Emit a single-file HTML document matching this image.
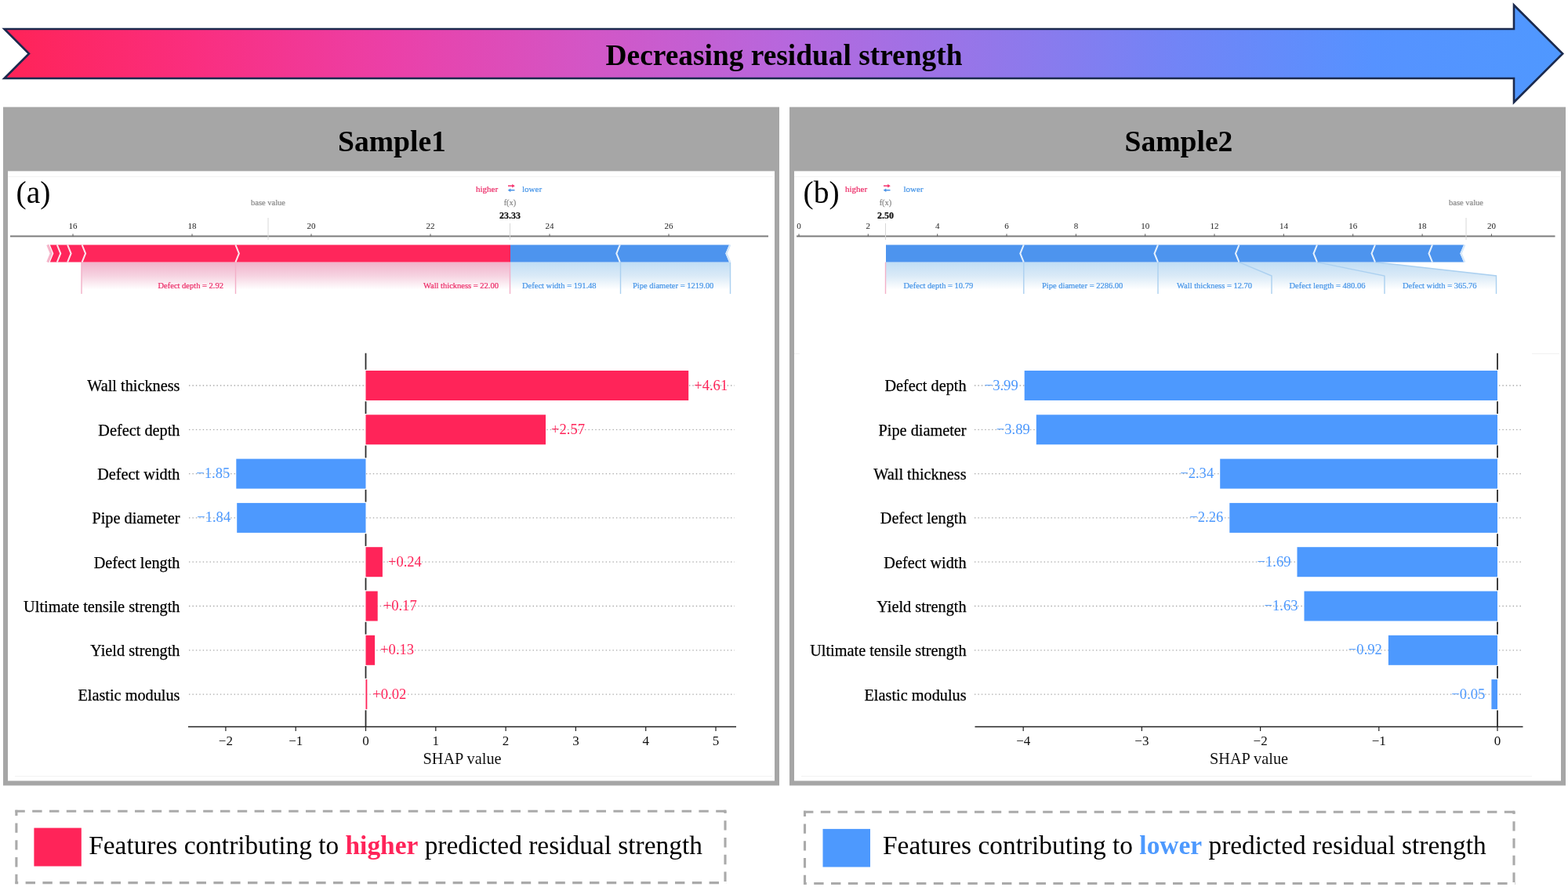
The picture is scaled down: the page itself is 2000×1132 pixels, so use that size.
<!DOCTYPE html><html><head><meta charset="utf-8"><title>SHAP</title><style>html,body{margin:0;padding:0;background:#fff;width:2000px;height:1132px;overflow:hidden}svg{display:block}</style></head><body><svg width="2000" height="1132" viewBox="0 0 2000 1132">
<rect width="2000" height="1132" fill="#FFFFFF"/>
<defs><linearGradient id="ag" x1="5" y1="0" x2="1995" y2="0" gradientUnits="userSpaceOnUse"><stop offset="0" stop-color="#FF2357"/><stop offset="0.123" stop-color="#FA2E7F"/><stop offset="0.249" stop-color="#EB40A8"/><stop offset="0.374" stop-color="#D356C6"/><stop offset="0.5" stop-color="#B767DD"/><stop offset="0.626" stop-color="#9576E9"/><stop offset="0.751" stop-color="#7284F6"/><stop offset="0.877" stop-color="#5692FF"/><stop offset="1" stop-color="#4F98FF"/></linearGradient><linearGradient id="gp" x1="0" y1="334.6" x2="0" y2="369.5" gradientUnits="userSpaceOnUse"><stop offset="0" stop-color="#F1B2CB"/><stop offset="0.5" stop-color="#F6D3E1"/><stop offset="1" stop-color="#FFFFFF"/></linearGradient><linearGradient id="gb" x1="0" y1="334.6" x2="0" y2="369.5" gradientUnits="userSpaceOnUse"><stop offset="0" stop-color="#C1DEF5"/><stop offset="0.5" stop-color="#DAEAF7"/><stop offset="1" stop-color="#FFFFFF"/></linearGradient></defs>
<polygon points="5.5,37 1931,37 1931,6.5 1993.2,68.5 1931,130.5 1931,100 5.5,100 37,68.5" fill="url(#ag)" stroke="#1B2A4E" stroke-width="2.6" stroke-linejoin="miter"/>
<text x="1000" y="82.5" text-anchor="middle" font-family="'Liberation Serif', 'DejaVu Serif', serif" font-weight="bold" font-size="37.4" fill="#000">Decreasing residual strength</text>
<rect x="4" y="136.6" width="990" height="865.9" fill="#A6A6A6"/>
<rect x="10" y="218.4" width="978" height="778.1" fill="#FFFFFF"/>
<text x="500" y="193" text-anchor="middle" font-family="'Liberation Serif', 'DejaVu Serif', serif" font-weight="bold" font-size="37.6" fill="#000">Sample1</text>
<rect x="1007" y="136.6" width="990" height="865.9" fill="#A6A6A6"/>
<rect x="1013" y="218.4" width="978" height="778.1" fill="#FFFFFF"/>
<text x="1503.5" y="193" text-anchor="middle" font-family="'Liberation Serif', 'DejaVu Serif', serif" font-weight="bold" font-size="37.6" fill="#000">Sample2</text>
<text x="20.5" y="258.5" font-family="'Liberation Serif', 'DejaVu Serif', serif" font-size="39.5" fill="#000">(a)</text>
<text x="1024.5" y="258.5" font-family="'Liberation Serif', 'DejaVu Serif', serif" font-size="39.5" fill="#000">(b)</text>
<line x1="13" y1="301.5" x2="980" y2="301.5" stroke="#7C7C7C" stroke-width="1.9"/>
<line x1="93.0" y1="298.5" x2="93.0" y2="301.5" stroke="#5A5A5A" stroke-width="1"/>
<text x="93.0" y="292.3" text-anchor="middle" font-family="'Liberation Serif', 'DejaVu Serif', serif" font-size="11" fill="#222">16</text>
<line x1="245.0" y1="298.5" x2="245.0" y2="301.5" stroke="#5A5A5A" stroke-width="1"/>
<text x="245.0" y="292.3" text-anchor="middle" font-family="'Liberation Serif', 'DejaVu Serif', serif" font-size="11" fill="#222">18</text>
<line x1="397.0" y1="298.5" x2="397.0" y2="301.5" stroke="#5A5A5A" stroke-width="1"/>
<text x="397.0" y="292.3" text-anchor="middle" font-family="'Liberation Serif', 'DejaVu Serif', serif" font-size="11" fill="#222">20</text>
<line x1="549.0" y1="298.5" x2="549.0" y2="301.5" stroke="#5A5A5A" stroke-width="1"/>
<text x="549.0" y="292.3" text-anchor="middle" font-family="'Liberation Serif', 'DejaVu Serif', serif" font-size="11" fill="#222">22</text>
<line x1="701.0" y1="298.5" x2="701.0" y2="301.5" stroke="#5A5A5A" stroke-width="1"/>
<text x="701.0" y="292.3" text-anchor="middle" font-family="'Liberation Serif', 'DejaVu Serif', serif" font-size="11" fill="#222">24</text>
<line x1="853.0" y1="298.5" x2="853.0" y2="301.5" stroke="#5A5A5A" stroke-width="1"/>
<text x="853.0" y="292.3" text-anchor="middle" font-family="'Liberation Serif', 'DejaVu Serif', serif" font-size="11" fill="#222">26</text>
<line x1="342" y1="278" x2="342" y2="306" stroke="#D8D8D8" stroke-width="1"/>
<text x="342" y="261.5" text-anchor="middle" font-family="'Liberation Serif', 'DejaVu Serif', serif" font-size="10.5" font-weight="normal" fill="#8A8A8A" stroke="#8A8A8A" stroke-width="0.22">base value</text>
<line x1="650.5" y1="285" x2="650.5" y2="306" stroke="#D8D8D8" stroke-width="1"/>
<text x="650.5" y="262" text-anchor="middle" font-family="'Liberation Serif', 'DejaVu Serif', serif" font-size="10.5" font-weight="normal" fill="#8A8A8A" stroke="#8A8A8A" stroke-width="0.22">f(x)</text>
<text x="650.5" y="279" text-anchor="middle" font-family="'Liberation Serif', 'DejaVu Serif', serif" font-size="12" font-weight="bold" fill="#111" stroke="#111" stroke-width="0.22">23.33</text>
<text x="607" y="244.5" text-anchor="start" font-family="'Liberation Serif', 'DejaVu Serif', serif" font-size="11" font-weight="normal" fill="#EC2C68" stroke="#EC2C68" stroke-width="0.22">higher</text>
<text x="666" y="244.5" text-anchor="start" font-family="'Liberation Serif', 'DejaVu Serif', serif" font-size="11" font-weight="normal" fill="#4896E8" stroke="#4896E8" stroke-width="0.22">lower</text>
<path d="M648,237.2 h6" stroke="#F5346E" stroke-width="1.5" fill="none"/>
<path d="M653.2,234.9 L656.8,237.2 L653.2,239.5 Z" fill="#F5346E"/>
<path d="M656.5,242.7 h-6" stroke="#4A92E6" stroke-width="1.5" fill="none"/>
<path d="M651.3,240.4 L647.7,242.7 L651.3,245 Z" fill="#4A92E6"/>
<polygon points="104,334.6 300.5,334.6 300.5,370 104,370" fill="url(#gp)"/>
<polygon points="300.5,334.6 650.5,334.6 650.5,370 300.5,370" fill="url(#gp)"/>
<polygon points="650.5,334.6 791.5,334.6 791.5,370 650.5,370" fill="url(#gb)"/>
<polygon points="791.5,334.6 931.5,334.6 931.5,370 791.5,370" fill="url(#gb)"/>
<polyline points="104,334.6 104,375" fill="none" stroke="#F3B0C8" stroke-width="1.4"/>
<polyline points="300.5,334.6 300.5,375" fill="none" stroke="#F3B0C8" stroke-width="1.4"/>
<polyline points="650.5,334.6 650.5,375" fill="none" stroke="#F3B0C8" stroke-width="1.4"/>
<polyline points="791.5,334.6 791.5,375" fill="none" stroke="#ABD0F0" stroke-width="1.4"/>
<polyline points="931.5,334.6 931.5,375" fill="none" stroke="#ABD0F0" stroke-width="1.4"/>
<text x="285" y="368" text-anchor="end" font-family="'Liberation Serif', 'DejaVu Serif', serif" font-size="10.5" font-weight="normal" fill="#EC2C68" stroke="#EC2C68" stroke-width="0.22">Defect depth = 2.92</text>
<text x="636" y="368" text-anchor="end" font-family="'Liberation Serif', 'DejaVu Serif', serif" font-size="10.5" font-weight="normal" fill="#EC2C68" stroke="#EC2C68" stroke-width="0.22">Wall thickness = 22.00</text>
<text x="666" y="368" text-anchor="start" font-family="'Liberation Serif', 'DejaVu Serif', serif" font-size="10.5" font-weight="normal" fill="#4896E8" stroke="#4896E8" stroke-width="0.22">Defect width = 191.48</text>
<text x="807" y="368" text-anchor="start" font-family="'Liberation Serif', 'DejaVu Serif', serif" font-size="10.5" font-weight="normal" fill="#4896E8" stroke="#4896E8" stroke-width="0.22">Pipe diameter = 1219.00</text>
<polygon points="63.8,312.4 651,312.4 651,334.6 63.8,334.6 68.3,323.5" fill="#FF265B"/>
<polyline points="60.8,312.4 65.3,323.5 60.8,334.6" fill="none" stroke="#F5B5CA" stroke-width="3.2"/>
<polygon points="651,312.4 930,312.4 925.3,323.5 930,334.6 651,334.6" fill="#4D94EE"/>
<polyline points="931.3,312.4 926.6,323.5 931.3,334.6" fill="none" stroke="#D6E8F9" stroke-width="2.2"/>
<polyline points="72.8,312.4 77.3,323.5 72.8,334.6" fill="none" stroke="#FCE6EE" stroke-width="2.0"/>
<polyline points="86.1,312.4 90.6,323.5 86.1,334.6" fill="none" stroke="#FCE6EE" stroke-width="2.0"/>
<polyline points="104.6,312.4 109.1,323.5 104.6,334.6" fill="none" stroke="#FCE6EE" stroke-width="2.0"/>
<polyline points="300.4,312.4 304.9,323.5 300.4,334.6" fill="none" stroke="#FCE6EE" stroke-width="2.0"/>
<polyline points="790.8,312.4 786.3,323.5 790.8,334.6" fill="none" stroke="#E6F1FC" stroke-width="2.0"/>
<line x1="1016" y1="301.5" x2="1983.5" y2="301.5" stroke="#7C7C7C" stroke-width="1.9"/>
<line x1="1019.0" y1="298.5" x2="1019.0" y2="301.5" stroke="#5A5A5A" stroke-width="1"/>
<text x="1019.0" y="292.3" text-anchor="middle" font-family="'Liberation Serif', 'DejaVu Serif', serif" font-size="11" fill="#222">0</text>
<line x1="1107.3" y1="298.5" x2="1107.3" y2="301.5" stroke="#5A5A5A" stroke-width="1"/>
<text x="1107.3" y="292.3" text-anchor="middle" font-family="'Liberation Serif', 'DejaVu Serif', serif" font-size="11" fill="#222">2</text>
<line x1="1195.7" y1="298.5" x2="1195.7" y2="301.5" stroke="#5A5A5A" stroke-width="1"/>
<text x="1195.7" y="292.3" text-anchor="middle" font-family="'Liberation Serif', 'DejaVu Serif', serif" font-size="11" fill="#222">4</text>
<line x1="1284.0" y1="298.5" x2="1284.0" y2="301.5" stroke="#5A5A5A" stroke-width="1"/>
<text x="1284.0" y="292.3" text-anchor="middle" font-family="'Liberation Serif', 'DejaVu Serif', serif" font-size="11" fill="#222">6</text>
<line x1="1372.4" y1="298.5" x2="1372.4" y2="301.5" stroke="#5A5A5A" stroke-width="1"/>
<text x="1372.4" y="292.3" text-anchor="middle" font-family="'Liberation Serif', 'DejaVu Serif', serif" font-size="11" fill="#222">8</text>
<line x1="1460.7" y1="298.5" x2="1460.7" y2="301.5" stroke="#5A5A5A" stroke-width="1"/>
<text x="1460.7" y="292.3" text-anchor="middle" font-family="'Liberation Serif', 'DejaVu Serif', serif" font-size="11" fill="#222">10</text>
<line x1="1549.0" y1="298.5" x2="1549.0" y2="301.5" stroke="#5A5A5A" stroke-width="1"/>
<text x="1549.0" y="292.3" text-anchor="middle" font-family="'Liberation Serif', 'DejaVu Serif', serif" font-size="11" fill="#222">12</text>
<line x1="1637.4" y1="298.5" x2="1637.4" y2="301.5" stroke="#5A5A5A" stroke-width="1"/>
<text x="1637.4" y="292.3" text-anchor="middle" font-family="'Liberation Serif', 'DejaVu Serif', serif" font-size="11" fill="#222">14</text>
<line x1="1725.7" y1="298.5" x2="1725.7" y2="301.5" stroke="#5A5A5A" stroke-width="1"/>
<text x="1725.7" y="292.3" text-anchor="middle" font-family="'Liberation Serif', 'DejaVu Serif', serif" font-size="11" fill="#222">16</text>
<line x1="1814.1" y1="298.5" x2="1814.1" y2="301.5" stroke="#5A5A5A" stroke-width="1"/>
<text x="1814.1" y="292.3" text-anchor="middle" font-family="'Liberation Serif', 'DejaVu Serif', serif" font-size="11" fill="#222">18</text>
<line x1="1902.4" y1="298.5" x2="1902.4" y2="301.5" stroke="#5A5A5A" stroke-width="1"/>
<text x="1902.4" y="292.3" text-anchor="middle" font-family="'Liberation Serif', 'DejaVu Serif', serif" font-size="11" fill="#222">20</text>
<line x1="1870" y1="278" x2="1870" y2="306" stroke="#D8D8D8" stroke-width="1"/>
<text x="1870" y="261.5" text-anchor="middle" font-family="'Liberation Serif', 'DejaVu Serif', serif" font-size="10.5" font-weight="normal" fill="#8A8A8A" stroke="#8A8A8A" stroke-width="0.22">base value</text>
<line x1="1129.5" y1="285" x2="1129.5" y2="306" stroke="#D8D8D8" stroke-width="1"/>
<text x="1129.5" y="262" text-anchor="middle" font-family="'Liberation Serif', 'DejaVu Serif', serif" font-size="10.5" font-weight="normal" fill="#8A8A8A" stroke="#8A8A8A" stroke-width="0.22">f(x)</text>
<text x="1129.5" y="279" text-anchor="middle" font-family="'Liberation Serif', 'DejaVu Serif', serif" font-size="12" font-weight="bold" fill="#111" stroke="#111" stroke-width="0.22">2.50</text>
<text x="1078" y="244.5" text-anchor="start" font-family="'Liberation Serif', 'DejaVu Serif', serif" font-size="11" font-weight="normal" fill="#EC2C68" stroke="#EC2C68" stroke-width="0.22">higher</text>
<text x="1152.5" y="244.5" text-anchor="start" font-family="'Liberation Serif', 'DejaVu Serif', serif" font-size="11" font-weight="normal" fill="#4896E8" stroke="#4896E8" stroke-width="0.22">lower</text>
<path d="M1127,237.2 h6" stroke="#F5346E" stroke-width="1.5" fill="none"/>
<path d="M1132.2,234.9 L1135.8,237.2 L1132.2,239.5 Z" fill="#F5346E"/>
<path d="M1135.5,242.7 h-6" stroke="#4A92E6" stroke-width="1.5" fill="none"/>
<path d="M1130.3,240.4 L1126.7,242.7 L1130.3,245 Z" fill="#4A92E6"/>
<polygon points="1129.5,334.6 1305.8,334.6 1305.8,370 1129.5,370" fill="url(#gb)"/>
<polygon points="1305.8,334.6 1477,334.6 1477,370 1305.8,370" fill="url(#gb)"/>
<polygon points="1477,334.6 1580.5,334.6 1622,352 1622,370 1477,370" fill="url(#gb)"/>
<polygon points="1580.5,334.6 1680,334.6 1766,352 1766,370 1622,370 1622,352" fill="url(#gb)"/>
<polygon points="1680,334.6 1754,334.6 1908.5,352 1908.5,370 1766,370 1766,352" fill="url(#gb)"/>
<polyline points="1305.8,334.6 1305.8,375" fill="none" stroke="#ABD0F0" stroke-width="1.4"/>
<polyline points="1477,334.6 1477,375" fill="none" stroke="#ABD0F0" stroke-width="1.4"/>
<polyline points="1580.5,334.6 1622,352 1622,375" fill="none" stroke="#ABD0F0" stroke-width="1.4"/>
<polyline points="1680,334.6 1766,352 1766,375" fill="none" stroke="#ABD0F0" stroke-width="1.4"/>
<polyline points="1754,334.6 1908.5,352 1908.5,375" fill="none" stroke="#ABD0F0" stroke-width="1.4"/>
<line x1="1129.5" y1="334.6" x2="1129.5" y2="375" stroke="#F3B0C8" stroke-width="1.4"/>
<text x="1152.5" y="368" text-anchor="start" font-family="'Liberation Serif', 'DejaVu Serif', serif" font-size="10.5" font-weight="normal" fill="#4896E8" stroke="#4896E8" stroke-width="0.22">Defect depth = 10.79</text>
<text x="1329" y="368" text-anchor="start" font-family="'Liberation Serif', 'DejaVu Serif', serif" font-size="10.5" font-weight="normal" fill="#4896E8" stroke="#4896E8" stroke-width="0.22">Pipe diameter = 2286.00</text>
<text x="1501" y="368" text-anchor="start" font-family="'Liberation Serif', 'DejaVu Serif', serif" font-size="10.5" font-weight="normal" fill="#4896E8" stroke="#4896E8" stroke-width="0.22">Wall thickness = 12.70</text>
<text x="1644.5" y="368" text-anchor="start" font-family="'Liberation Serif', 'DejaVu Serif', serif" font-size="10.5" font-weight="normal" fill="#4896E8" stroke="#4896E8" stroke-width="0.22">Defect length = 480.06</text>
<text x="1789" y="368" text-anchor="start" font-family="'Liberation Serif', 'DejaVu Serif', serif" font-size="10.5" font-weight="normal" fill="#4896E8" stroke="#4896E8" stroke-width="0.22">Defect width = 365.76</text>
<polygon points="1130,312.4 1867,312.4 1862.3,323.5 1867,334.6 1130,334.6" fill="#4D94EE"/>
<polyline points="1868.3,312.4 1863.6,323.5 1868.3,334.6" fill="none" stroke="#D6E8F9" stroke-width="2.2"/>
<polyline points="1305.8,312.4 1301.3,323.5 1305.8,334.6" fill="none" stroke="#E6F1FC" stroke-width="2.0"/>
<polyline points="1477,312.4 1472.5,323.5 1477,334.6" fill="none" stroke="#E6F1FC" stroke-width="2.0"/>
<polyline points="1580.5,312.4 1576.0,323.5 1580.5,334.6" fill="none" stroke="#E6F1FC" stroke-width="2.0"/>
<polyline points="1680,312.4 1675.5,323.5 1680,334.6" fill="none" stroke="#E6F1FC" stroke-width="2.0"/>
<polyline points="1754,312.4 1749.5,323.5 1754,334.6" fill="none" stroke="#E6F1FC" stroke-width="2.0"/>
<polyline points="1827,312.4 1822.5,323.5 1827,334.6" fill="none" stroke="#E6F1FC" stroke-width="2.0"/>
<line x1="10" y1="225.5" x2="985.5" y2="225.5" stroke="#F3F3F3" stroke-width="1"/>
<line x1="1013" y1="225.5" x2="1990" y2="225.5" stroke="#F3F3F3" stroke-width="1"/>
<line x1="1954" y1="451.3" x2="1989" y2="451.3" stroke="#F0F0F0" stroke-width="1"/>
<line x1="1013" y1="451.3" x2="1020" y2="451.3" stroke="#F0F0F0" stroke-width="1"/>
<line x1="19" y1="990.8" x2="985" y2="990.8" stroke="#F0F0F0" stroke-width="1"/>
<line x1="1022" y1="990.8" x2="1954" y2="990.8" stroke="#F0F0F0" stroke-width="1"/>
<line x1="241" y1="492.0" x2="937" y2="492.0" stroke="#A9A9A9" stroke-width="1.3" stroke-dasharray="1.4 3.03"/>
<line x1="241" y1="548.3" x2="937" y2="548.3" stroke="#A9A9A9" stroke-width="1.3" stroke-dasharray="1.4 3.03"/>
<line x1="241" y1="604.6" x2="937" y2="604.6" stroke="#A9A9A9" stroke-width="1.3" stroke-dasharray="1.4 3.03"/>
<line x1="241" y1="660.9" x2="937" y2="660.9" stroke="#A9A9A9" stroke-width="1.3" stroke-dasharray="1.4 3.03"/>
<line x1="241" y1="717.2" x2="937" y2="717.2" stroke="#A9A9A9" stroke-width="1.3" stroke-dasharray="1.4 3.03"/>
<line x1="241" y1="773.5" x2="937" y2="773.5" stroke="#A9A9A9" stroke-width="1.3" stroke-dasharray="1.4 3.03"/>
<line x1="241" y1="829.8" x2="937" y2="829.8" stroke="#A9A9A9" stroke-width="1.3" stroke-dasharray="1.4 3.03"/>
<line x1="241" y1="886.1" x2="937" y2="886.1" stroke="#A9A9A9" stroke-width="1.3" stroke-dasharray="1.4 3.03"/>
<line x1="466.5" y1="450.7" x2="466.5" y2="471.7" stroke="#2B2B2B" stroke-width="1.8"/>
<line x1="466.5" y1="512.3" x2="466.5" y2="528.0" stroke="#2B2B2B" stroke-width="1.8"/>
<line x1="466.5" y1="568.6" x2="466.5" y2="584.3" stroke="#2B2B2B" stroke-width="1.8"/>
<line x1="466.5" y1="624.9" x2="466.5" y2="640.6" stroke="#2B2B2B" stroke-width="1.8"/>
<line x1="466.5" y1="681.2" x2="466.5" y2="696.9" stroke="#2B2B2B" stroke-width="1.8"/>
<line x1="466.5" y1="737.5" x2="466.5" y2="753.2" stroke="#2B2B2B" stroke-width="1.8"/>
<line x1="466.5" y1="793.8" x2="466.5" y2="809.5" stroke="#2B2B2B" stroke-width="1.8"/>
<line x1="466.5" y1="850.1" x2="466.5" y2="865.8" stroke="#2B2B2B" stroke-width="1.8"/>
<line x1="466.5" y1="906.4" x2="466.5" y2="927.5" stroke="#2B2B2B" stroke-width="1.8"/>
<rect x="466.5" y="473.0" width="411.7" height="38" fill="#FF2459"/>
<text x="229.5" y="499.4" text-anchor="end" font-family="'Liberation Serif', 'DejaVu Serif', serif" font-size="20.3" fill="#000" stroke="#000" stroke-width="0.25">Wall thickness</text>
<text x="885.2" y="497.5" text-anchor="start" font-family="'Liberation Serif', 'DejaVu Serif', serif" font-size="18.6" fill="#FF2459">+4.61</text>
<rect x="466.5" y="529.3" width="229.5" height="38" fill="#FF2459"/>
<text x="229.5" y="555.7" text-anchor="end" font-family="'Liberation Serif', 'DejaVu Serif', serif" font-size="20.3" fill="#000" stroke="#000" stroke-width="0.25">Defect depth</text>
<text x="703.0" y="553.8" text-anchor="start" font-family="'Liberation Serif', 'DejaVu Serif', serif" font-size="18.6" fill="#FF2459">+2.57</text>
<rect x="301.3" y="585.6" width="165.2" height="38" fill="#4D99FE"/>
<text x="229.5" y="612.0" text-anchor="end" font-family="'Liberation Serif', 'DejaVu Serif', serif" font-size="20.3" fill="#000" stroke="#000" stroke-width="0.25">Defect width</text>
<text x="293.3" y="610.1" text-anchor="end" font-family="'Liberation Serif', 'DejaVu Serif', serif" font-size="18.6" fill="#4D99FE">−1.85</text>
<rect x="302.2" y="641.9" width="164.3" height="38" fill="#4D99FE"/>
<text x="229.5" y="668.3" text-anchor="end" font-family="'Liberation Serif', 'DejaVu Serif', serif" font-size="20.3" fill="#000" stroke="#000" stroke-width="0.25">Pipe diameter</text>
<text x="294.2" y="666.4" text-anchor="end" font-family="'Liberation Serif', 'DejaVu Serif', serif" font-size="18.6" fill="#4D99FE">−1.84</text>
<rect x="466.5" y="698.2" width="21.4" height="38" fill="#FF2459"/>
<text x="229.5" y="724.6" text-anchor="end" font-family="'Liberation Serif', 'DejaVu Serif', serif" font-size="20.3" fill="#000" stroke="#000" stroke-width="0.25">Defect length</text>
<text x="494.9" y="722.7" text-anchor="start" font-family="'Liberation Serif', 'DejaVu Serif', serif" font-size="18.6" fill="#FF2459">+0.24</text>
<rect x="466.5" y="754.5" width="15.2" height="38" fill="#FF2459"/>
<text x="229.5" y="780.9" text-anchor="end" font-family="'Liberation Serif', 'DejaVu Serif', serif" font-size="20.3" fill="#000" stroke="#000" stroke-width="0.25">Ultimate tensile strength</text>
<text x="488.7" y="779.0" text-anchor="start" font-family="'Liberation Serif', 'DejaVu Serif', serif" font-size="18.6" fill="#FF2459">+0.17</text>
<rect x="466.5" y="810.8" width="11.6" height="38" fill="#FF2459"/>
<text x="229.5" y="837.2" text-anchor="end" font-family="'Liberation Serif', 'DejaVu Serif', serif" font-size="20.3" fill="#000" stroke="#000" stroke-width="0.25">Yield strength</text>
<text x="485.1" y="835.3" text-anchor="start" font-family="'Liberation Serif', 'DejaVu Serif', serif" font-size="18.6" fill="#FF2459">+0.13</text>
<rect x="466.5" y="867.1" width="1.8" height="38" fill="#FF2459"/>
<text x="229.5" y="893.5" text-anchor="end" font-family="'Liberation Serif', 'DejaVu Serif', serif" font-size="20.3" fill="#000" stroke="#000" stroke-width="0.25">Elastic modulus</text>
<text x="475.3" y="891.6" text-anchor="start" font-family="'Liberation Serif', 'DejaVu Serif', serif" font-size="18.6" fill="#FF2459">+0.02</text>
<line x1="240" y1="927.5" x2="939" y2="927.5" stroke="#222" stroke-width="1.6"/>
<line x1="287.9" y1="927.5" x2="287.9" y2="933" stroke="#222" stroke-width="1.2"/>
<text x="287.9" y="951" text-anchor="middle" font-family="'Liberation Serif', 'DejaVu Serif', serif" font-size="17" fill="#111">−2</text>
<line x1="377.2" y1="927.5" x2="377.2" y2="933" stroke="#222" stroke-width="1.2"/>
<text x="377.2" y="951" text-anchor="middle" font-family="'Liberation Serif', 'DejaVu Serif', serif" font-size="17" fill="#111">−1</text>
<line x1="466.5" y1="927.5" x2="466.5" y2="933" stroke="#222" stroke-width="1.2"/>
<text x="466.5" y="951" text-anchor="middle" font-family="'Liberation Serif', 'DejaVu Serif', serif" font-size="17" fill="#111">0</text>
<line x1="555.8" y1="927.5" x2="555.8" y2="933" stroke="#222" stroke-width="1.2"/>
<text x="555.8" y="951" text-anchor="middle" font-family="'Liberation Serif', 'DejaVu Serif', serif" font-size="17" fill="#111">1</text>
<line x1="645.1" y1="927.5" x2="645.1" y2="933" stroke="#222" stroke-width="1.2"/>
<text x="645.1" y="951" text-anchor="middle" font-family="'Liberation Serif', 'DejaVu Serif', serif" font-size="17" fill="#111">2</text>
<line x1="734.4" y1="927.5" x2="734.4" y2="933" stroke="#222" stroke-width="1.2"/>
<text x="734.4" y="951" text-anchor="middle" font-family="'Liberation Serif', 'DejaVu Serif', serif" font-size="17" fill="#111">3</text>
<line x1="823.7" y1="927.5" x2="823.7" y2="933" stroke="#222" stroke-width="1.2"/>
<text x="823.7" y="951" text-anchor="middle" font-family="'Liberation Serif', 'DejaVu Serif', serif" font-size="17" fill="#111">4</text>
<line x1="913.0" y1="927.5" x2="913.0" y2="933" stroke="#222" stroke-width="1.2"/>
<text x="913.0" y="951" text-anchor="middle" font-family="'Liberation Serif', 'DejaVu Serif', serif" font-size="17" fill="#111">5</text>
<text x="589.5" y="975" text-anchor="middle" font-family="'Liberation Serif', 'DejaVu Serif', serif" font-size="20.3" fill="#111">SHAP value</text>
<line x1="1243" y1="492.0" x2="1940" y2="492.0" stroke="#A9A9A9" stroke-width="1.3" stroke-dasharray="1.4 3.03"/>
<line x1="1243" y1="548.3" x2="1940" y2="548.3" stroke="#A9A9A9" stroke-width="1.3" stroke-dasharray="1.4 3.03"/>
<line x1="1243" y1="604.6" x2="1940" y2="604.6" stroke="#A9A9A9" stroke-width="1.3" stroke-dasharray="1.4 3.03"/>
<line x1="1243" y1="660.9" x2="1940" y2="660.9" stroke="#A9A9A9" stroke-width="1.3" stroke-dasharray="1.4 3.03"/>
<line x1="1243" y1="717.2" x2="1940" y2="717.2" stroke="#A9A9A9" stroke-width="1.3" stroke-dasharray="1.4 3.03"/>
<line x1="1243" y1="773.5" x2="1940" y2="773.5" stroke="#A9A9A9" stroke-width="1.3" stroke-dasharray="1.4 3.03"/>
<line x1="1243" y1="829.8" x2="1940" y2="829.8" stroke="#A9A9A9" stroke-width="1.3" stroke-dasharray="1.4 3.03"/>
<line x1="1243" y1="886.1" x2="1940" y2="886.1" stroke="#A9A9A9" stroke-width="1.3" stroke-dasharray="1.4 3.03"/>
<line x1="1910" y1="450.7" x2="1910" y2="471.7" stroke="#2B2B2B" stroke-width="1.8"/>
<line x1="1910" y1="512.3" x2="1910" y2="528.0" stroke="#2B2B2B" stroke-width="1.8"/>
<line x1="1910" y1="568.6" x2="1910" y2="584.3" stroke="#2B2B2B" stroke-width="1.8"/>
<line x1="1910" y1="624.9" x2="1910" y2="640.6" stroke="#2B2B2B" stroke-width="1.8"/>
<line x1="1910" y1="681.2" x2="1910" y2="696.9" stroke="#2B2B2B" stroke-width="1.8"/>
<line x1="1910" y1="737.5" x2="1910" y2="753.2" stroke="#2B2B2B" stroke-width="1.8"/>
<line x1="1910" y1="793.8" x2="1910" y2="809.5" stroke="#2B2B2B" stroke-width="1.8"/>
<line x1="1910" y1="850.1" x2="1910" y2="865.8" stroke="#2B2B2B" stroke-width="1.8"/>
<line x1="1910" y1="906.4" x2="1910" y2="927.5" stroke="#2B2B2B" stroke-width="1.8"/>
<rect x="1306.7" y="473.0" width="603.3" height="38" fill="#4D99FE"/>
<text x="1232.6" y="499.4" text-anchor="end" font-family="'Liberation Serif', 'DejaVu Serif', serif" font-size="20.3" fill="#000" stroke="#000" stroke-width="0.25">Defect depth</text>
<text x="1298.7" y="497.5" text-anchor="end" font-family="'Liberation Serif', 'DejaVu Serif', serif" font-size="18.6" fill="#4D99FE">−3.99</text>
<rect x="1321.8" y="529.3" width="588.2" height="38" fill="#4D99FE"/>
<text x="1232.6" y="555.7" text-anchor="end" font-family="'Liberation Serif', 'DejaVu Serif', serif" font-size="20.3" fill="#000" stroke="#000" stroke-width="0.25">Pipe diameter</text>
<text x="1313.8" y="553.8" text-anchor="end" font-family="'Liberation Serif', 'DejaVu Serif', serif" font-size="18.6" fill="#4D99FE">−3.89</text>
<rect x="1556.2" y="585.6" width="353.8" height="38" fill="#4D99FE"/>
<text x="1232.6" y="612.0" text-anchor="end" font-family="'Liberation Serif', 'DejaVu Serif', serif" font-size="20.3" fill="#000" stroke="#000" stroke-width="0.25">Wall thickness</text>
<text x="1548.2" y="610.1" text-anchor="end" font-family="'Liberation Serif', 'DejaVu Serif', serif" font-size="18.6" fill="#4D99FE">−2.34</text>
<rect x="1568.3" y="641.9" width="341.7" height="38" fill="#4D99FE"/>
<text x="1232.6" y="668.3" text-anchor="end" font-family="'Liberation Serif', 'DejaVu Serif', serif" font-size="20.3" fill="#000" stroke="#000" stroke-width="0.25">Defect length</text>
<text x="1560.3" y="666.4" text-anchor="end" font-family="'Liberation Serif', 'DejaVu Serif', serif" font-size="18.6" fill="#4D99FE">−2.26</text>
<rect x="1654.5" y="698.2" width="255.5" height="38" fill="#4D99FE"/>
<text x="1232.6" y="724.6" text-anchor="end" font-family="'Liberation Serif', 'DejaVu Serif', serif" font-size="20.3" fill="#000" stroke="#000" stroke-width="0.25">Defect width</text>
<text x="1646.5" y="722.7" text-anchor="end" font-family="'Liberation Serif', 'DejaVu Serif', serif" font-size="18.6" fill="#4D99FE">−1.69</text>
<rect x="1663.5" y="754.5" width="246.5" height="38" fill="#4D99FE"/>
<text x="1232.6" y="780.9" text-anchor="end" font-family="'Liberation Serif', 'DejaVu Serif', serif" font-size="20.3" fill="#000" stroke="#000" stroke-width="0.25">Yield strength</text>
<text x="1655.5" y="779.0" text-anchor="end" font-family="'Liberation Serif', 'DejaVu Serif', serif" font-size="18.6" fill="#4D99FE">−1.63</text>
<rect x="1770.9" y="810.8" width="139.1" height="38" fill="#4D99FE"/>
<text x="1232.6" y="837.2" text-anchor="end" font-family="'Liberation Serif', 'DejaVu Serif', serif" font-size="20.3" fill="#000" stroke="#000" stroke-width="0.25">Ultimate tensile strength</text>
<text x="1762.9" y="835.3" text-anchor="end" font-family="'Liberation Serif', 'DejaVu Serif', serif" font-size="18.6" fill="#4D99FE">−0.92</text>
<rect x="1902.4" y="867.1" width="7.6" height="38" fill="#4D99FE"/>
<text x="1232.6" y="893.5" text-anchor="end" font-family="'Liberation Serif', 'DejaVu Serif', serif" font-size="20.3" fill="#000" stroke="#000" stroke-width="0.25">Elastic modulus</text>
<text x="1894.4" y="891.6" text-anchor="end" font-family="'Liberation Serif', 'DejaVu Serif', serif" font-size="18.6" fill="#4D99FE">−0.05</text>
<line x1="1243.5" y1="927.5" x2="1942.5" y2="927.5" stroke="#222" stroke-width="1.6"/>
<line x1="1305.2" y1="927.5" x2="1305.2" y2="933" stroke="#222" stroke-width="1.2"/>
<text x="1305.2" y="951" text-anchor="middle" font-family="'Liberation Serif', 'DejaVu Serif', serif" font-size="17" fill="#111">−4</text>
<line x1="1456.4" y1="927.5" x2="1456.4" y2="933" stroke="#222" stroke-width="1.2"/>
<text x="1456.4" y="951" text-anchor="middle" font-family="'Liberation Serif', 'DejaVu Serif', serif" font-size="17" fill="#111">−3</text>
<line x1="1607.6" y1="927.5" x2="1607.6" y2="933" stroke="#222" stroke-width="1.2"/>
<text x="1607.6" y="951" text-anchor="middle" font-family="'Liberation Serif', 'DejaVu Serif', serif" font-size="17" fill="#111">−2</text>
<line x1="1758.8" y1="927.5" x2="1758.8" y2="933" stroke="#222" stroke-width="1.2"/>
<text x="1758.8" y="951" text-anchor="middle" font-family="'Liberation Serif', 'DejaVu Serif', serif" font-size="17" fill="#111">−1</text>
<line x1="1910.0" y1="927.5" x2="1910.0" y2="933" stroke="#222" stroke-width="1.2"/>
<text x="1910.0" y="951" text-anchor="middle" font-family="'Liberation Serif', 'DejaVu Serif', serif" font-size="17" fill="#111">0</text>
<text x="1593.0" y="975" text-anchor="middle" font-family="'Liberation Serif', 'DejaVu Serif', serif" font-size="20.3" fill="#111">SHAP value</text>
<line x1="19.4" y1="1035.2" x2="926.5" y2="1035.2" stroke="#AAAAAA" stroke-width="3.1" stroke-dasharray="12.4 9.4" stroke-dashoffset="0"/>
<line x1="925" y1="1035.2" x2="925" y2="1128.1" stroke="#AAAAAA" stroke-width="3.1" stroke-dasharray="12.4 9.4" stroke-dashoffset="9.8"/>
<line x1="925" y1="1033.7" x2="925" y2="1037.4" stroke="#AAAAAA" stroke-width="3.1"/>
<line x1="19.4" y1="1126.6" x2="926.5" y2="1126.6" stroke="#AAAAAA" stroke-width="3.1" stroke-dasharray="12.4 9.4" stroke-dashoffset="8.6"/>
<line x1="20.9" y1="1033.7" x2="20.9" y2="1128.1" stroke="#AAAAAA" stroke-width="3.1" stroke-dasharray="12.4 9.4" stroke-dashoffset="5.1"/>
<rect x="43.4" y="1056.6" width="60.4" height="48.9" fill="#FF2459"/>
<text x="113.2" y="1090.4" font-family="'Liberation Serif', 'DejaVu Serif', serif" font-size="33.4" fill="#000">Features contributing to <tspan font-weight="bold" fill="#FF2459">higher</tspan> predicted residual strength</text>
<line x1="1025.0" y1="1036.2" x2="1932.5" y2="1036.2" stroke="#AAAAAA" stroke-width="3.1" stroke-dasharray="12.4 9.4" stroke-dashoffset="0"/>
<line x1="1931" y1="1036.2" x2="1931" y2="1129.0" stroke="#AAAAAA" stroke-width="3.1" stroke-dasharray="12.4 9.4" stroke-dashoffset="9.8"/>
<line x1="1931" y1="1034.7" x2="1931" y2="1038.4" stroke="#AAAAAA" stroke-width="3.1"/>
<line x1="1025.0" y1="1127.5" x2="1932.5" y2="1127.5" stroke="#AAAAAA" stroke-width="3.1" stroke-dasharray="12.4 9.4" stroke-dashoffset="8.6"/>
<line x1="1026.5" y1="1034.7" x2="1026.5" y2="1129.0" stroke="#AAAAAA" stroke-width="3.1" stroke-dasharray="12.4 9.4" stroke-dashoffset="5.1"/>
<rect x="1049.5" y="1057.9" width="60.5" height="48.6" fill="#4D99FE"/>
<text x="1126" y="1090.4" font-family="'Liberation Serif', 'DejaVu Serif', serif" font-size="33.4" fill="#000">Features contributing to <tspan font-weight="bold" fill="#4D99FE">lower</tspan> predicted residual strength</text>
</svg></body></html>
